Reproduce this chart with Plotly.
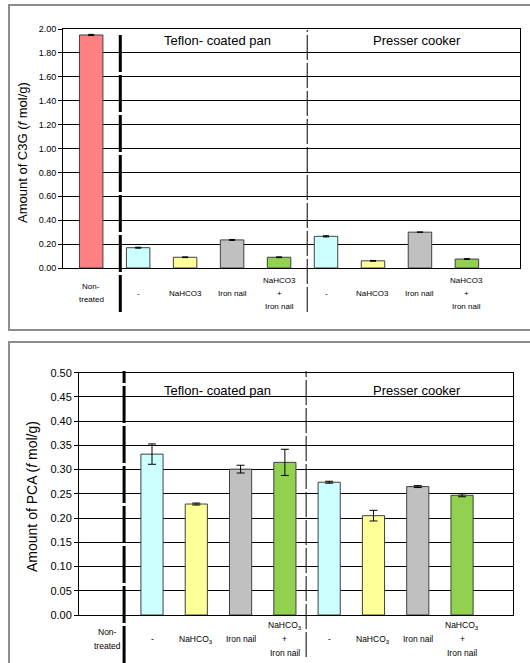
import plotly.graph_objects as go

# ---------------- data ----------------
labels_c3g = ["Non-\ntreated", "-", "NaHCO3", "Iron nail", "NaHCO3\n+\nIron nail",
              "-", "NaHCO3", "Iron nail", "NaHCO3\n+\nIron nail"]
labels_pca = ["Non-\ntreated", "-", "NaHCO<sub>3</sub>", "Iron nail", "NaHCO<sub>3</sub>\n+\nIron nail",
              "-", "NaHCO<sub>3</sub>", "Iron nail", "NaHCO<sub>3</sub>\n+\nIron nail"]
c3g_values = [1.95, 0.17, 0.09, 0.235, 0.09, 0.265, 0.06, 0.30, 0.075]
c3g_errors = [0.005, 0.004, 0.003, 0.004, 0.003, 0.005, 0.003, 0.002, 0.003]
pca_values = [None, 0.332, 0.229, 0.301, 0.315, 0.274, 0.205, 0.265, 0.247]
pca_errors = [None, 0.021, 0.002, 0.008, 0.027, 0.002, 0.011, 0.002, 0.003]
group_names = ["Teflon- coated pan", "Presser cooker"]
bar_colors = ["#FF8080", "#CCFFFF", "#FFFF99", "#C0C0C0", "#92D050",
              "#CCFFFF", "#FFFF99", "#C0C0C0", "#92D050"]
c3g_title = "Amount of C3G (<i>f</i> mol/g)"
pca_title = "Amount of PCA (<i>f</i> mol/g)"

W, H = 530, 663
FONT = "Liberation Sans, Arial, sans-serif"
xs = list(range(len(labels_c3g)))

def px_x(p):
    return p / W

def px_y(p):
    return 1 - p / H

fig = go.Figure()

fig.add_trace(go.Bar(
    x=xs, y=c3g_values, width=0.5,
    marker=dict(color=bar_colors, line=dict(color="#404040", width=1)),
    error_y=dict(type="data", array=c3g_errors, color="black", thickness=1, width=3),
    xaxis="x", yaxis="y", showlegend=False))

fig.add_trace(go.Bar(
    x=xs, y=pca_values, width=0.5,
    marker=dict(color=bar_colors, line=dict(color="#404040", width=1)),
    error_y=dict(type="data", array=pca_errors, color="black", thickness=1, width=4),
    xaxis="x2", yaxis="y2", showlegend=False))

axis_common = dict(showline=True, linecolor="black", linewidth=1, mirror=True, automargin=False)

fig.update_layout(
    width=W, height=H,
    margin=dict(l=0, r=0, t=0, b=0, pad=0, autoexpand=False),
    paper_bgcolor="white", plot_bgcolor="white",
    font=dict(family=FONT, color="black"),
    xaxis=dict(domain=[px_x(63), px_x(520)], range=[-0.6, 9.13], anchor="y",
               showticklabels=False, showgrid=False, zeroline=False, ticks="", **axis_common),
    yaxis=dict(domain=[px_y(268), px_y(29)], range=[0, 2.0], dtick=0.2, tickformat=".2f",
               anchor="x", showgrid=True, gridcolor="black", gridwidth=1, zeroline=False,
               ticks="outside", ticklen=4, tickcolor="black",
               tickfont=dict(size=9, family=FONT), **axis_common),
    xaxis2=dict(domain=[px_x(79), px_x(513)], range=[-0.648, 9.15], anchor="y2",
                showticklabels=False, showgrid=False, zeroline=False, ticks="", **axis_common),
    yaxis2=dict(domain=[px_y(615), px_y(372.7)], range=[0, 0.5], dtick=0.05, tickformat=".2f",
                anchor="x2", showgrid=True, gridcolor="black", gridwidth=1, zeroline=False,
                ticks="outside", ticklen=4, tickcolor="black",
                tickfont=dict(size=11, family=FONT), **axis_common),
)

annotations = []

def add_labels(labels, xref, center_px, line_h, size):
    # category labels, one annotation per text line
    for i, lab in enumerate(labels):
        lines = lab.split("\n")
        n = len(lines)
        for k, ln in enumerate(lines):
            off = (k - (n - 1) / 2) * line_h
            annotations.append(dict(x=xs[i], y=px_y(center_px + off), xref=xref, yref="paper",
                                    text=ln, showarrow=False, xanchor="center", yanchor="middle",
                                    font=dict(size=size, family=FONT)))

add_labels(labels_c3g, "x", 293, 13, 8)
add_labels(labels_pca, "x2", 639, 14, 8.5)

hdr = dict(showarrow=False, xanchor="center", yanchor="middle", yref="paper",
           font=dict(size=13, family=FONT))
annotations += [
    dict(x=2.68, y=px_y(40), xref="x", text=group_names[0], **hdr),
    dict(x=6.94, y=px_y(40), xref="x", text=group_names[1], **hdr),
    dict(x=2.47, y=px_y(390), xref="x2", text=group_names[0], **hdr),
    dict(x=6.98, y=px_y(390), xref="x2", text=group_names[1], **hdr),
    dict(x=px_x(22), y=px_y(153), xref="paper", yref="paper", text=c3g_title, textangle=-90,
         showarrow=False, xanchor="center", yanchor="middle", font=dict(size=13, family=FONT)),
    dict(x=px_x(32), y=px_y(497), xref="paper", yref="paper", text=pca_title, textangle=-90,
         showarrow=False, xanchor="center", yanchor="middle", font=dict(size=14, family=FONT)),
]
fig.update_layout(annotations=annotations)

shapes = [
    # panel frames
    dict(type="rect", xref="paper", yref="paper", x0=px_x(9), x1=px_x(545), y0=px_y(330), y1=px_y(5),
         line=dict(color="#8C8C8C", width=2), layer="below"),
    dict(type="rect", xref="paper", yref="paper", x0=px_x(9), x1=px_x(545), y0=px_y(700), y1=px_y(342),
         line=dict(color="#8C8C8C", width=2), layer="below"),
    # separators, top chart
    dict(type="line", xref="x", yref="paper", x0=0.62, x1=0.62, y0=px_y(312), y1=px_y(32),
         line=dict(color="black", width=3, dash="37px,3px")),
    dict(type="line", xref="x", yref="paper", x0=4.6, x1=4.6, y0=px_y(312), y1=px_y(30),
         line=dict(color="black", width=1, dash="25px,3px")),
    # separators, bottom chart
    dict(type="line", xref="x2", yref="paper", x0=0.37, x1=0.37, y0=px_y(663), y1=px_y(371),
         line=dict(color="black", width=3, dash="37px,3px")),
    dict(type="line", xref="x2", yref="paper", x0=4.48, x1=4.48, y0=px_y(657), y1=px_y(371),
         line=dict(color="black", width=1, dash="25px,3px")),
]
fig.update_layout(shapes=shapes)

fig.write_html("out.html", config={"displayModeBar": False},
               post_script="document.body.style.margin='0px';document.body.style.overflow='hidden';")
